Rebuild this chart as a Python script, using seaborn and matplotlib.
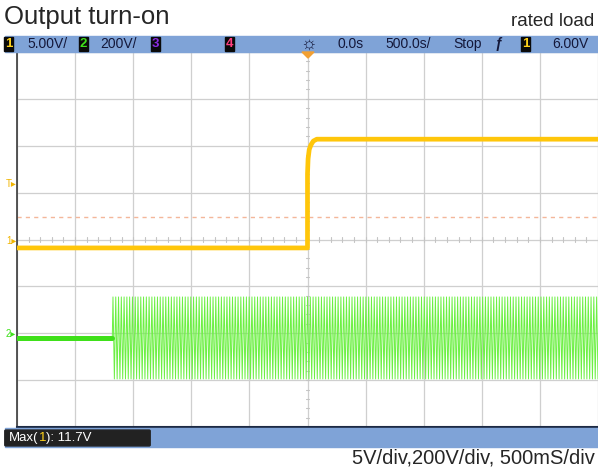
import numpy as np
import pandas as pd
import seaborn as sns
import matplotlib.pyplot as plt
from matplotlib.patches import Rectangle, FancyBboxPatch, Polygon

# scope settings
CH1_V_PER_DIV = 5.0
CH2_V_PER_DIV = 200.0
CH1_OFFSET_DIV = 0.0
CH2_OFFSET_DIV = -2.0

# channel 1 : output voltage (s, V)
ch1_t = [-2.5, 0.0, 0.0, 0.005, 0.015, 0.03, 0.05, 0.08, 2.5]
ch1_v = [-0.9, -0.9, 7.0, 8.6, 9.6, 10.1, 10.5, 10.7, 10.7]

# channel 2 : AC input (s, V)
ch2_idle_t = [-2.5, -1.68]
ch2_idle_v = [-20, -20]
ch2_on_t = -1.68
ch2_cycle_v = [-20, 155, -20, -195]   # one mains cycle as it shows on screen
ch2_cycles = 175

trigger_level_v = 6.0
cursor_v = 2.35

W, H = 598, 472


def fx(x):
    return x / W


def fy(y):
    return 1 - y / H


sns.set_style("white")
plt.rcParams['font.family'] = ['Liberation Sans', 'DejaVu Sans']

fig = plt.figure(figsize=(W / 100, H / 100), dpi=100)
ax = fig.add_axes([fx(17), fy(427), (W - 17) / W, (427 - 52) / H])

# grid
ax.set_xlim(-2.5, 2.5)
ax.set_ylim(-4, 4)
ax.set_xticks(np.arange(-2.5, 2.51, 0.5))
ax.set_yticks(np.arange(-4, 4.1, 1))
ax.tick_params(length=0, labelbottom=False, labelleft=False)
ax.grid(True, color='#cfcfcf', lw=0.9)
ax.set_axisbelow(True)
for t in np.arange(-2.5, 2.51, 0.1):
    ax.plot([t, t], [-0.05, 0.05], color='#c4c4c4', lw=0.8, zorder=1)
for d in np.arange(-4, 4.01, 0.2):
    ax.plot([-0.012, 0.012], [d, d], color='#c4c4c4', lw=0.8, zorder=1)
for s in ['top', 'right']:
    ax.spines[s].set_visible(False)
ax.spines['left'].set_color('#3a3a3a')
ax.spines['bottom'].set_color('#1c2a44')
ax.spines['left'].set_linewidth(1.2)
ax.spines['bottom'].set_linewidth(1.5)

# cursor line
ax.axhline(cursor_v / CH1_V_PER_DIV + CH1_OFFSET_DIV, color='#f4b79a',
           lw=1.0, ls=(0, (3, 3)), zorder=2)

# channel 2 trace
t_idle = np.array(ch2_idle_t)
n = ch2_cycles * len(ch2_cycle_v)
t_on = np.linspace(ch2_on_t, 2.5, n)
v_on = np.tile(ch2_cycle_v, ch2_cycles)
df2_idle = pd.DataFrame({'t': t_idle,
                         'div': np.array(ch2_idle_v) / CH2_V_PER_DIV + CH2_OFFSET_DIV})
df2_on = pd.DataFrame({'t': t_on, 'div': v_on / CH2_V_PER_DIV + CH2_OFFSET_DIV})
sns.lineplot(data=df2_on, x='t', y='div', ax=ax, color='#6cf043', lw=0.7,
             estimator=None, sort=False, zorder=3)
sns.lineplot(data=df2_idle, x='t', y='div', ax=ax, color='#3fe01a', lw=3.6,
             estimator=None, sort=False, zorder=3)

# channel 1 trace
df1 = pd.DataFrame({'t': ch1_t, 'div': np.array(ch1_v) / CH1_V_PER_DIV + CH1_OFFSET_DIV})
sns.lineplot(data=df1, x='t', y='div', ax=ax, color='#ffc60a', lw=3.4,
             estimator=None, sort=False, zorder=4)
ax.set_xlabel('')
ax.set_ylabel('')

# titles
fig.text(fx(4), fy(17), 'Output turn-on', fontsize=18.5, va='center', ha='left')
fig.text(fx(594), fy(21), 'rated load', fontsize=13.5, va='center', ha='right')
fig.text(fx(595), fy(458), '5V/div,200V/div, 500mS/div', fontsize=14.5,
         va='center', ha='right')

# header bar
bar_col = '#7fa3d7'
fig.patches.append(Rectangle((fx(5), fy(52)), (W - 5) / W, 16 / H,
                             transform=fig.transFigure, color=bar_col, zorder=0))
fig.patches.append(Rectangle((fx(5), fy(447)), (W - 5) / W, 19 / H,
                             transform=fig.transFigure, color=bar_col, zorder=0))

hdr_y = fy(44)
txt_col = '#14183a'
hfs = 10


def chan_box(x, label, col):
    fig.patches.append(Rectangle((fx(x), fy(51)), 9 / W, 14 / H,
                                 transform=fig.transFigure, color='#0a0a0a'))
    fig.text(fx(x + 4.5), hdr_y, label, color=col, fontsize=9.5,
             ha='center', va='center', fontweight='bold')


chan_box(4, '1', '#ffd21a')
fig.text(fx(27), hdr_y, '5.00V/', fontsize=hfs, color=txt_col, va='center')
chan_box(79, '2', '#3fe01a')
fig.text(fx(100), hdr_y, '200V/', fontsize=hfs, color=txt_col, va='center')
chan_box(151, '3', '#8a2be2')
chan_box(225, '4', '#ff3d7f')
fig.text(fx(308), hdr_y, '☼', fontsize=13, color=txt_col, va='center', ha='center')
fig.text(fx(338), hdr_y, '0.0s', fontsize=hfs, color=txt_col, va='center')
fig.text(fx(385), hdr_y, '500.0s/', fontsize=hfs, color=txt_col, va='center')
fig.text(fx(453), hdr_y, 'Stop', fontsize=hfs, color=txt_col, va='center')
fig.text(fx(498), hdr_y, 'ƒ', fontsize=10, color=txt_col, va='center',
         ha='center', style='italic', fontweight='bold')
chan_box(521, '1', '#ffd21a')
fig.text(fx(552), hdr_y, '6.00V', fontsize=hfs, color=txt_col, va='center')

# trigger position marker
fig.patches.append(Polygon([(fx(302), fy(52)), (fx(314), fy(52)), (fx(308), fy(58))],
                           closed=True, transform=fig.transFigure,
                           color='#f2a033', zorder=5))

# left channel markers
trig_y = 240 - trigger_level_v / CH1_V_PER_DIV * 46.9
fig.text(fx(11), fy(trig_y), 'T▸', fontsize=7, color='#f0b400', ha='center', va='center')
fig.text(fx(11), fy(241), '1▸', fontsize=7, color='#f0b400', ha='center', va='center')
fig.text(fx(11), fy(334), '2▸', fontsize=7, color='#3fe01a', ha='center', va='center')

# measurement box
fig.patches.append(FancyBboxPatch((fx(6), fy(445)), 143 / W, 14 / H,
                                  boxstyle='round,pad=0.002', transform=fig.transFigure,
                                  color='#222222', zorder=5))
fig.text(fx(9), fy(438), 'Max(', fontsize=9.5, color='white', va='center', zorder=6)
fig.text(fx(39), fy(438), '1', fontsize=9.5, color='#ffd21a', va='center', zorder=6)
fig.text(fx(46), fy(438), '): 11.7V', fontsize=9.5, color='white', va='center', zorder=6)

fig.savefig('out.png', dpi=100)
